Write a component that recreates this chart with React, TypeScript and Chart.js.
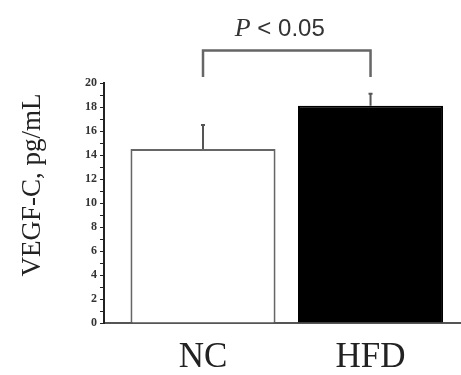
import React, { useEffect, useRef } from "react";
import { Chart, registerables } from "chart.js";

Chart.register(...registerables);

const CATEGORIES = ["NC", "HFD"];
const MEANS = [14.5, 18.1];
const ERRORS = [2.0, 1.0];
const BAR_FILLS = ["#ffffff", "#000000"];
const BAR_BORDERS = ["#666666", "#000000"];
const Y_TITLE = "VEGF-C, pg/mL";
const SIG_LABEL_P = "P";
const SIG_LABEL_REST = " < 0.05";
const BRACKET_TOP = 22.7;
const BRACKET_BOTTOM = 20.5;
const SIG_TEXT_VALUE = 24.5;
const Y_TITLE_CENTER_VALUE = 11.5;

const overlayPlugin = {
  id: "overlay",
  afterDatasetsDraw(chart: any) {
    const ctx = chart.ctx;
    const xs = chart.scales.x;
    const ys = chart.scales.y;
    ctx.save();
    // error bars (upper only)
    ctx.strokeStyle = "#555555";
    ctx.lineWidth = 2;
    MEANS.forEach((m, i) => {
      const x = xs.getPixelForValue(i);
      const y1 = ys.getPixelForValue(m);
      const y2 = ys.getPixelForValue(m + ERRORS[i]);
      ctx.beginPath();
      ctx.moveTo(x, y1);
      ctx.lineTo(x, y2);
      ctx.moveTo(x - 2, y2);
      ctx.lineTo(x + 2, y2);
      ctx.stroke();
    });
    // bracket
    const xa = xs.getPixelForValue(0);
    const xb = xs.getPixelForValue(1);
    const yt = ys.getPixelForValue(BRACKET_TOP);
    const yb = ys.getPixelForValue(BRACKET_BOTTOM);
    ctx.strokeStyle = "#666666";
    ctx.lineWidth = 2.5;
    ctx.beginPath();
    ctx.moveTo(xa, yb);
    ctx.lineTo(xa, yt);
    ctx.lineTo(xb, yt);
    ctx.lineTo(xb, yb);
    ctx.stroke();
    // significance text
    const ty = ys.getPixelForValue(SIG_TEXT_VALUE);
    ctx.fillStyle = "#333333";
    ctx.textBaseline = "middle";
    const fP = "italic 26px 'Liberation Serif'";
    const fR = "24px 'Liberation Sans'";
    ctx.font = fP;
    const wP = ctx.measureText(SIG_LABEL_P).width;
    ctx.font = fR;
    const wR = ctx.measureText(SIG_LABEL_REST).width;
    const cx = (xa + xb) / 2 - 7;
    const sx = cx - (wP + wR) / 2;
    ctx.textAlign = "left";
    ctx.font = fP;
    ctx.fillText(SIG_LABEL_P, sx, ty);
    ctx.font = fR;
    ctx.fillText(SIG_LABEL_REST, sx + wP, ty);
    // y title
    const yc = ys.getPixelForValue(Y_TITLE_CENTER_VALUE);
    ctx.translate(33, yc);
    ctx.rotate(-Math.PI / 2);
    ctx.font = "27px 'Liberation Serif'";
    ctx.textAlign = "center";
    ctx.fillStyle = "#222222";
    ctx.fillText(Y_TITLE, 0, 0);
    ctx.restore();
  },
};

export default function App() {
  const ref = useRef<HTMLCanvasElement>(null);
  useEffect(() => {
    const chart = new Chart(ref.current!, {
      type: "bar",
      data: {
        datasets: [
          {
            data: MEANS.map((v, i) => ({ x: i, y: v })),
            backgroundColor: BAR_FILLS,
            borderColor: BAR_BORDERS,
            borderWidth: 2,
            categoryPercentage: 1,
            barPercentage: 0.866,
          } as any,
        ],
      },
      options: {
        responsive: false,
        animation: false,
        layout: { padding: { top: 83, left: 0, right: 0, bottom: 0 } },
        plugins: { legend: { display: false }, tooltip: { enabled: false } },
        scales: {
          x: {
            type: "linear",
            offset: false,
            min: -0.591,
            max: 1.54,
            afterFit: (s: any) => {
              s.height = 52;
            },
            grid: { display: true, offset: false, drawOnChartArea: false, drawTicks: false },
            border: { display: true, color: "#555555", width: 2 },
            ticks: {
              stepSize: 1,
              includeBounds: false,
              padding: 14,
              color: "#222222",
              font: { family: "'Liberation Serif'", size: 35 },
              callback: (v: any) =>
                Number.isInteger(v) && CATEGORIES[v] !== undefined ? CATEGORIES[v] : "",
            },
          },
          y: {
            min: 0,
            max: 20,
            afterFit: (s: any) => {
              s.width = 104;
            },
            grid: {
              display: true,
              drawOnChartArea: false,
              drawTicks: true,
              tickLength: 4,
              color: "#222222",
            },
            border: { display: true, color: "#222222", width: 2 },
            ticks: {
              stepSize: 1,
              autoSkip: false,
              padding: 3,
              color: "#333333",
              font: { family: "'Liberation Serif'", size: 12, weight: "bold" },
              callback: (v: any) => (v % 2 === 0 ? String(v) : ""),
            },
          },
        },
      },
      plugins: [overlayPlugin],
    } as any);
    return () => chart.destroy();
  }, []);
  return (
    <div style={{ position: "fixed", left: 0, top: 0, width: 461, height: 375, background: "#fff" }}>
      <canvas ref={ref} width={461} height={375} />
    </div>
  );
}
